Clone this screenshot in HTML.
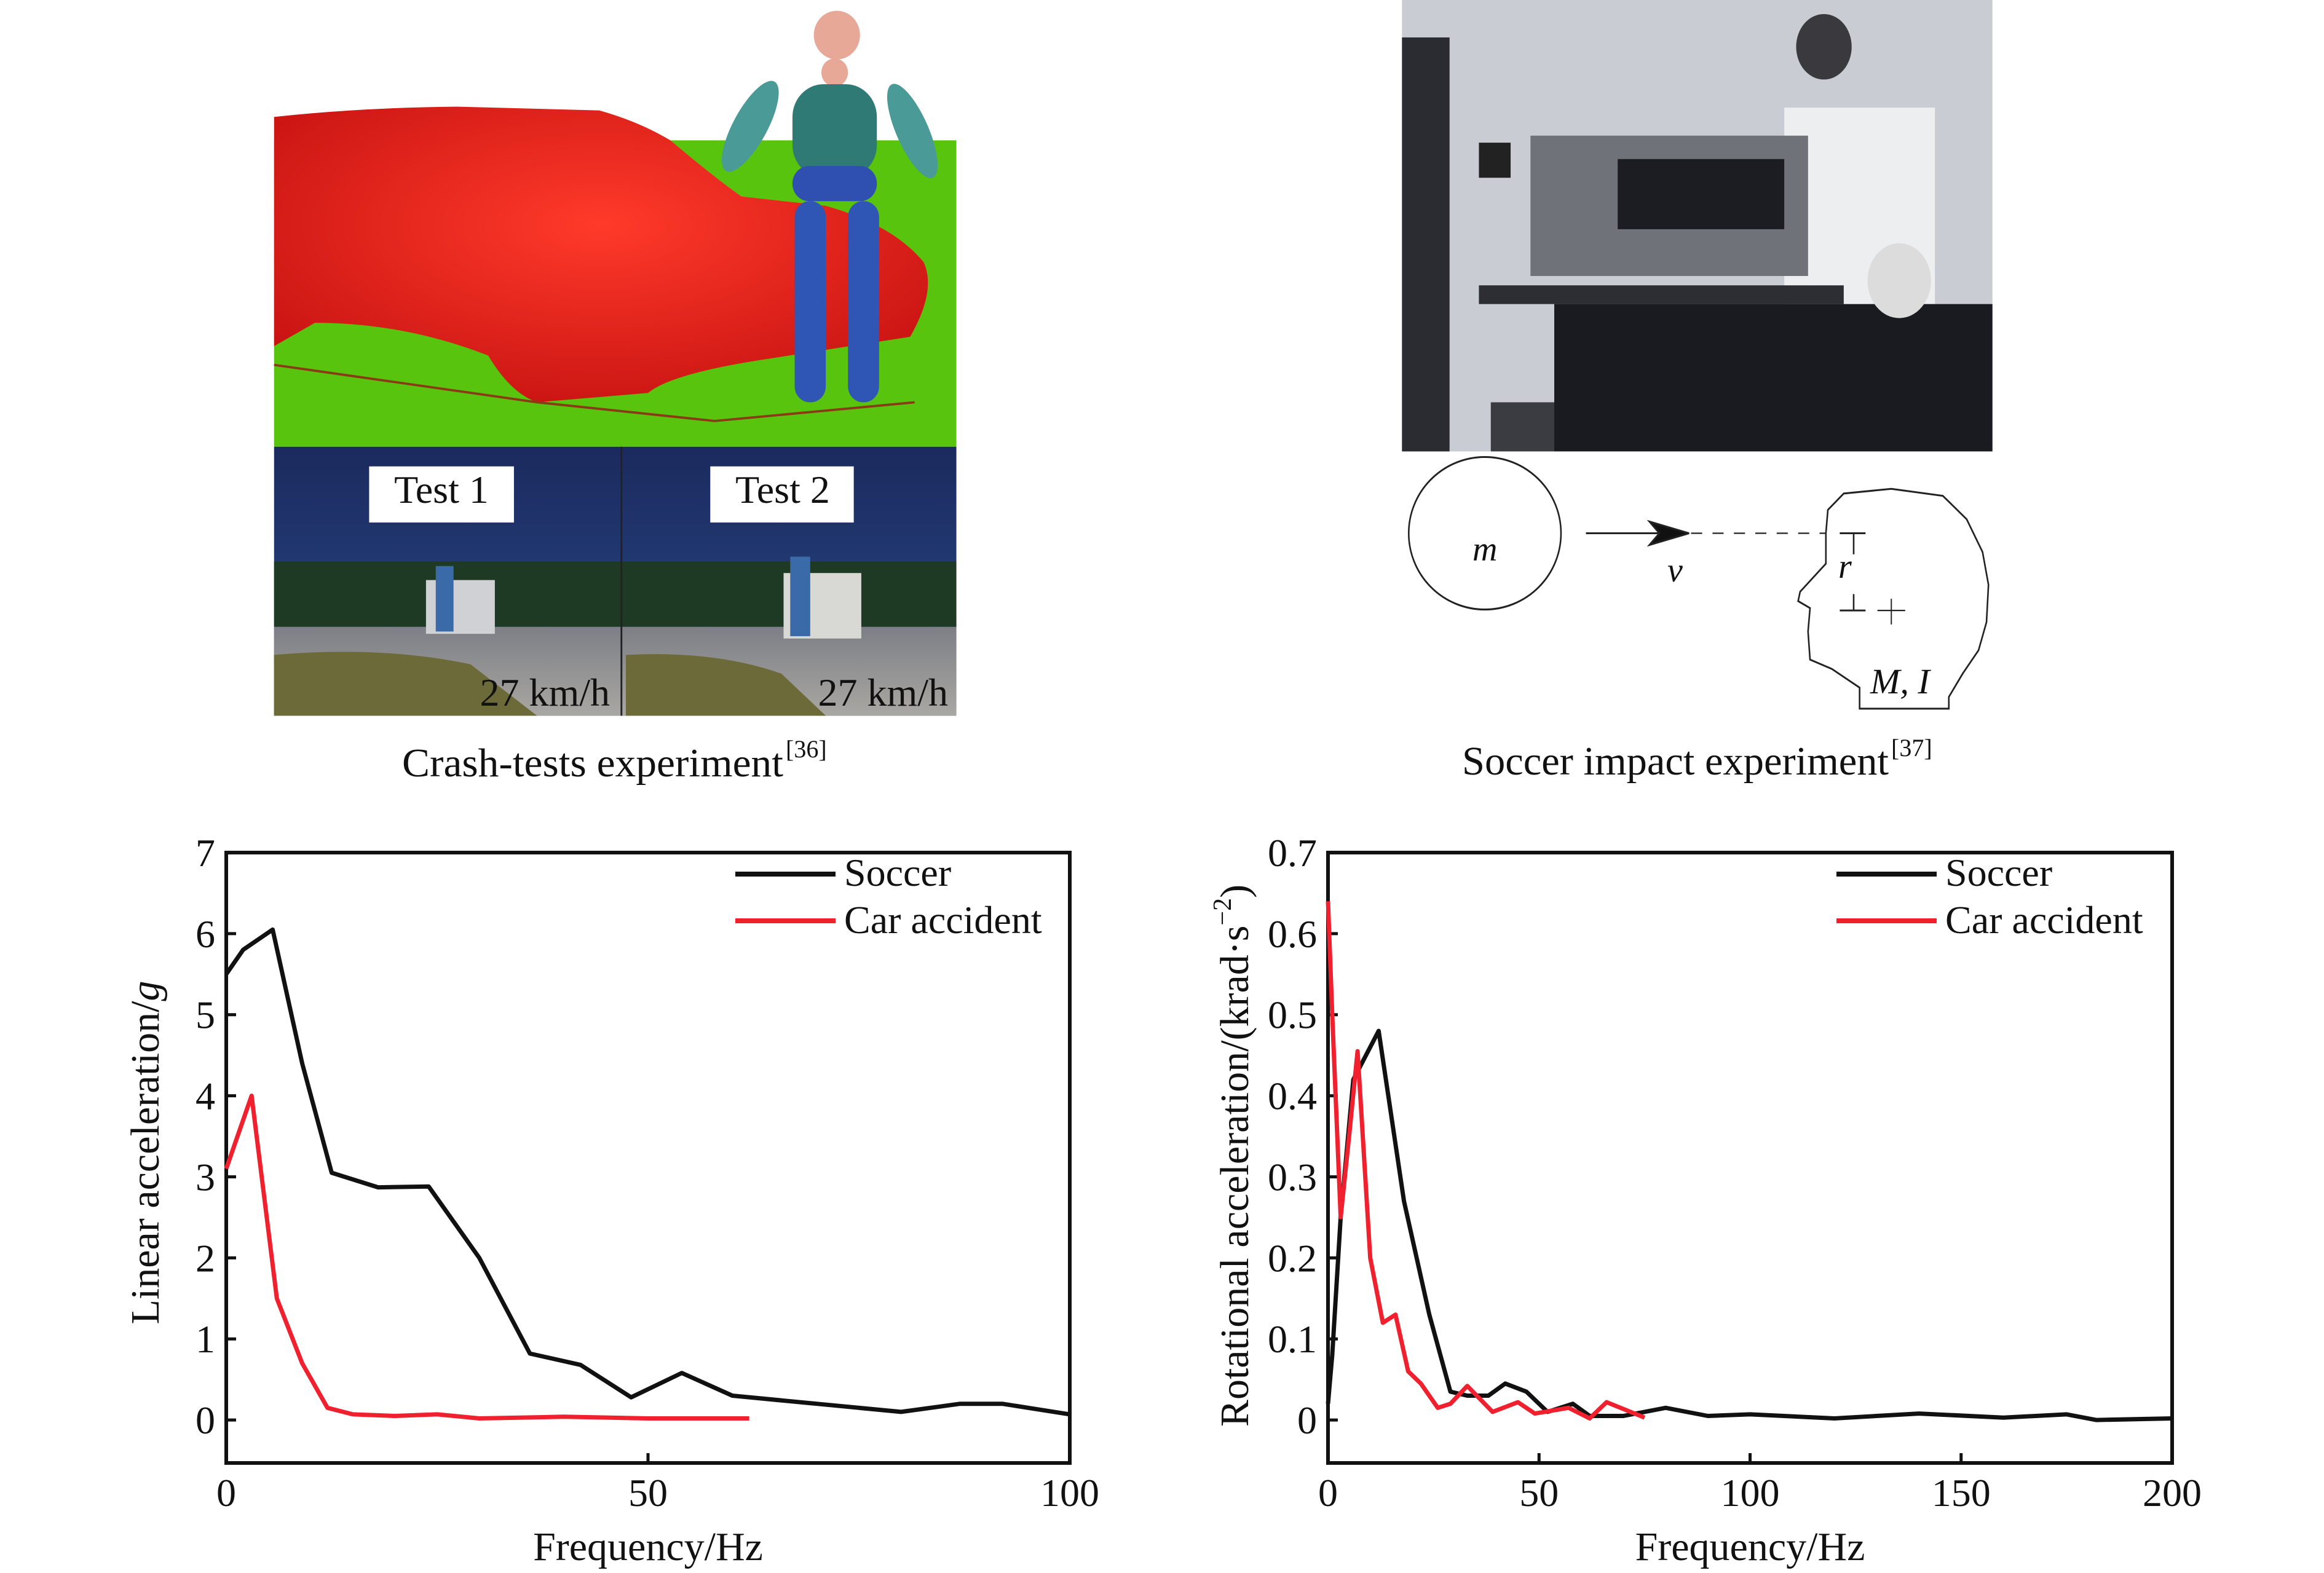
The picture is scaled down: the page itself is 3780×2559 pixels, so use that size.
<!DOCTYPE html>
<html><head><meta charset="utf-8"><style>
html,body{margin:0;padding:0;background:#fff}
svg{display:block}
text{font-family:"Liberation Serif",serif;fill:#111}
</style></head><body>
<svg id="fig" width="3780" height="2559" viewBox="0 0 3780 2559" xmlns="http://www.w3.org/2000/svg">
<defs>
<linearGradient id="sky" x1="0" y1="0" x2="0" y2="1"><stop offset="0" stop-color="#1b2a5e"/><stop offset="1" stop-color="#2a4a8a"/></linearGradient>
<linearGradient id="road" x1="0" y1="0" x2="0" y2="1"><stop offset="0" stop-color="#7d7f86"/><stop offset="1" stop-color="#a9a7a2"/></linearGradient>
<radialGradient id="carg" cx="0.5" cy="0.4" r="0.7"><stop offset="0" stop-color="#ff3a2a"/><stop offset="1" stop-color="#c41010"/></radialGradient>
</defs>

<!-- Crash test render -->
<g transform="translate(440,0) scale(0.7225,0.761)">
<rect x="8" y="0" width="1536" height="300" fill="#fff"/>
<rect x="8" y="300" width="1536" height="655" fill="#58c40e"/>
<path d="M8 250 Q200 230 420 228 L740 236 Q830 260 900 300 Q1000 380 1060 420 L1250 440 Q1400 480 1470 560 Q1500 620 1440 720 L1100 770 Q900 800 850 840 L600 860 Q540 840 490 760 Q300 690 100 690 L8 740 Z" fill="url(#carg)"/>
<path d="M8 780 L600 860 L1000 900 L1450 860" stroke="#8a3a14" stroke-width="5" fill="none"/>
<circle cx="1275" cy="75" r="52" fill="#e8a898"/>
<circle cx="1270" cy="155" r="30" fill="#e8a898"/>
<rect x="1175" y="180" width="190" height="200" rx="70" fill="#2f7a74"/>
<ellipse cx="1080" cy="270" rx="38" ry="110" fill="#4a9a98" transform="rotate(30 1080 270)"/>
<ellipse cx="1445" cy="280" rx="36" ry="110" fill="#4a9a98" transform="rotate(-25 1445 280)"/>
<rect x="1175" y="355" width="190" height="75" rx="37" fill="#2f50b0"/>
<rect x="1180" y="430" width="70" height="430" rx="34" fill="#2f55b5"/>
<rect x="1300" y="430" width="70" height="430" rx="34" fill="#2f55b5"/>
<rect x="8" y="955" width="1536" height="575" fill="url(#sky)"/>
<rect x="8" y="1200" width="1536" height="140" fill="#1f3a24"/>
<rect x="8" y="1340" width="1536" height="190" fill="url(#road)"/>
<path d="M8 1400 Q250 1380 450 1420 L600 1530 L8 1530 Z" fill="#6d6a3a"/>
<path d="M800 1400 Q1000 1390 1150 1440 L1250 1530 L800 1530 Z" fill="#6d6a3a"/>
<rect x="350" y="1240" width="155" height="115" fill="#cfd1d4"/>
<rect x="1155" y="1225" width="175" height="140" fill="#d8d8d4"/>
<rect x="372" y="1210" width="40" height="140" fill="#3a6aa8"/>
<rect x="1170" y="1190" width="45" height="170" fill="#3a6aa8"/>
<line x1="790" y1="955" x2="790" y2="1530" stroke="#222" stroke-width="4"/>
<rect x="222" y="997" width="326" height="120" fill="#fff"/>
<rect x="990" y="997" width="323" height="120" fill="#fff"/>
</g>
<text x="718" y="818" text-anchor="middle" font-size="64">Test 1</text>
<text x="1273" y="818" text-anchor="middle" font-size="64">Test 2</text>
<text x="992" y="1148" text-anchor="end" font-size="64">27 km/h</text>
<text x="1542" y="1148" text-anchor="end" font-size="64">27 km/h</text>
<text x="654" y="1263" font-size="66" textLength="620" lengthAdjust="spacingAndGlyphs">Crash-tests experiment</text>
<text x="1278" y="1232" font-size="40">[36]</text>

<!-- Soccer photo -->
<g transform="translate(2270,0) scale(0.645,0.761)">
<rect x="16" y="0" width="1489" height="965" fill="#c9ccd2"/>
<rect x="16" y="80" width="120" height="885" fill="#2a2c32"/>
<rect x="210" y="305" width="80" height="75" fill="#222"/>
<rect x="980" y="230" width="380" height="500" fill="#eceeef"/>
<circle cx="1080" cy="100" r="70" fill="#3a3a3e"/>
<rect x="340" y="290" width="700" height="300" fill="#6f7278"/>
<rect x="560" y="340" width="420" height="150" fill="#1c1d22"/>
<rect x="210" y="610" width="920" height="40" fill="#2c2e33"/>
<rect x="400" y="650" width="1105" height="315" fill="#1a1b20"/>
<rect x="240" y="860" width="160" height="105" fill="#3a3c42"/>
<circle cx="1270" cy="600" r="80" fill="#dcdcdc"/>
</g>
<g transform="translate(2270,0) scale(0.645,0.761)" fill="none" stroke="#222" stroke-width="4">
<ellipse cx="225" cy="1140" rx="192" ry="163"/>
<line x1="480" y1="1140" x2="700" y2="1140"/>
<path d="M640 1115 L740 1140 L640 1165 L665 1140 Z" fill="#111"/>
<line x1="745" y1="1140" x2="1085" y2="1140" stroke-dasharray="28 26" stroke-width="3"/>
<path d="M1085 1140 L1090 1090 L1130 1055 L1250 1045 L1380 1060 L1440 1110 L1480 1180 L1495 1250 L1490 1330 L1470 1390 L1430 1440 L1395 1490 L1395 1515 L1170 1515 L1170 1470 L1100 1430 L1045 1410 L1040 1350 L1045 1300 L1015 1285 L1020 1265 L1085 1205 Z"/>
<line x1="1120" y1="1140" x2="1185" y2="1140"/><line x1="1155" y1="1140" x2="1155" y2="1185"/>
<line x1="1120" y1="1305" x2="1185" y2="1305"/><line x1="1155" y1="1270" x2="1155" y2="1305"/>
<line x1="1215" y1="1305" x2="1285" y2="1305" stroke-width="3"/><line x1="1250" y1="1280" x2="1250" y2="1335" stroke-width="3"/>
</g>
<text x="2395" y="912" font-size="56" font-style="italic">m</text>
<text x="2712" y="946" font-size="56" font-style="italic">v</text>
<text x="2990" y="940" font-size="56" font-style="italic">r</text>
<text x="3042" y="1128" font-size="58" font-style="italic">M, I</text>
<text x="2378" y="1260" font-size="66" textLength="694" lengthAdjust="spacingAndGlyphs">Soccer impact experiment</text>
<text x="3076" y="1230" font-size="40">[37]</text>

<g id="chart1"></g>
<g id="chart2"></g>
</svg>
<script>
// Left chart data
const linXTicks = [0, 50, 100];
const linYTicks = [0, 1, 2, 3, 4, 5, 6, 7];
const linSoccerX = [0, 2, 5.5, 9, 12.5, 18, 24, 30, 36, 42, 48, 54, 60, 70, 80, 87, 92, 100];
const linSoccerY = [5.5, 5.8, 6.05, 4.4, 3.05, 2.87, 2.88, 2.0, 0.82, 0.68, 0.28, 0.58, 0.3, 0.2, 0.1, 0.2, 0.2, 0.07];
const linCarX = [0, 3, 6, 9, 12, 15, 20, 25, 30, 40, 50, 62];
const linCarY = [3.1, 4.0, 1.5, 0.7, 0.15, 0.07, 0.05, 0.07, 0.02, 0.04, 0.02, 0.02];
// Right chart data
const rotXTicks = [0, 50, 100, 150, 200];
const rotYTicks = [0, 0.1, 0.2, 0.3, 0.4, 0.5, 0.6, 0.7];
const rotSoccerX = [0, 1, 3, 6, 12, 18, 24, 29, 33, 38, 42, 47, 52, 58, 62, 70, 80, 90, 100, 120, 140, 160, 175, 182, 200];
const rotSoccerY = [0.02, 0.08, 0.25, 0.42, 0.48, 0.27, 0.13, 0.035, 0.03, 0.03, 0.045, 0.035, 0.01, 0.02, 0.005, 0.005, 0.015, 0.005, 0.007, 0.002, 0.008, 0.003, 0.007, 0.0, 0.002];
const rotCarX = [0, 1, 3, 5, 7, 10, 13, 16, 19, 22, 26, 29, 33, 39, 45, 49, 57, 62, 66, 75];
const rotCarY = [0.64, 0.5, 0.25, 0.35, 0.455, 0.2, 0.12, 0.13, 0.06, 0.045, 0.015, 0.02, 0.042, 0.01, 0.022, 0.008, 0.015, 0.002, 0.022, 0.003];

const NS = 'http://www.w3.org/2000/svg';
function mk(tag, attrs, parent) {
  const e = document.createElementNS(NS, tag);
  for (const k in attrs) e.setAttribute(k, attrs[k]);
  parent.appendChild(e);
  return e;
}
function drawChart(g, cfg) {
  const L = cfg.left, R = cfg.right, T = 1387, B = 2380;
  const sx = v => L + (v - cfg.xmin) / (cfg.xmax - cfg.xmin) * (R - L);
  const sy = v => T + (cfg.ymax - v) / (cfg.ymax - cfg.ymin) * (B - T);
  const box = mk('rect', {x: L, y: T, width: R - L, height: B - T, fill: 'none', stroke: '#111', 'stroke-width': 6}, g);
  
  
  cfg.xt.forEach(v => {
    const t = mk('line', {x1: sx(v), x2: sx(v), y1: B, y2: B - 16, stroke: '#111', 'stroke-width': 5}, g);
    
    
    const lb = mk('text', {x: sx(v), y: 2450, 'text-anchor': 'middle', 'font-size': 64}, g);
    lb.textContent = v;
    
    
  });
  cfg.yt.forEach(v => {
    const t = mk('line', {x1: L, x2: L + 16, y1: sy(v), y2: sy(v), stroke: '#111', 'stroke-width': 5}, g);
    
    
    const lb = mk('text', {x: L - 18, y: sy(v) + 22, 'text-anchor': 'end', 'font-size': 64}, g);
    lb.textContent = cfg.fmt(v);
    
    
  });
  const xt = mk('text', {x: (L + R) / 2, y: 2538, 'text-anchor': 'middle', 'font-size': 66}, g);
  xt.textContent = 'Frequency/Hz';
  
  
  const yt = mk('text', {x: 0, y: 0, 'text-anchor': 'middle', 'font-size': 66, transform: 'translate(' + cfg.ytx + ',' + cfg.yty + ') rotate(-90)'}, g);
  yt.innerHTML = cfg.ytitle;
  
  
  const series = [[cfg.sx, cfg.sy, '#111', 'soccer-line'], [cfg.cx, cfg.cy, '#f0202e', 'car-accident-line']];
  series.forEach(s => {
    const d = s[0].map((x, i) => (i ? 'L' : 'M') + sx(x).toFixed(1) + ' ' + sy(s[1][i]).toFixed(1)).join(' ');
    const p = mk('path', {d: d, fill: 'none', stroke: s[2], 'stroke-width': 7, 'stroke-linejoin': 'round'}, g);
    
    
  });
  const lx1 = cfg.legX, lx2 = cfg.legX + 163;
  [['Soccer', '#111', 1422, 1441], ['Car accident', '#f0202e', 1498, 1518]].forEach(e => {
    const ln = mk('line', {x1: lx1, x2: lx2, y1: e[2], y2: e[2], stroke: e[1], 'stroke-width': 8}, g);
    
    
    const t = mk('text', {x: lx2 + 14, y: e[3], 'font-size': 64}, g);
    t.textContent = e[0];
    
    
  });
}
drawChart(document.getElementById('chart1'), {
  left: 368, right: 1740, xmin: 0, xmax: 100, ymin: -0.53, ymax: 7,
  xt: linXTicks, yt: linYTicks, fmt: v => String(v),
  sx: linSoccerX, sy: linSoccerY, cx: linCarX, cy: linCarY,
  ytx: 258, yty: 1875, ytitle: 'Linear acceleration/<tspan font-style="italic">g</tspan>', legX: 1196
});
drawChart(document.getElementById('chart2'), {
  left: 2160, right: 3533, xmin: 0, xmax: 200, ymin: -0.053, ymax: 0.7,
  xt: rotXTicks, yt: rotYTicks, fmt: v => v === 0 ? '0' : v.toFixed(1),
  sx: rotSoccerX, sy: rotSoccerY, cx: rotCarX, cy: rotCarY,
  ytx: 2030, yty: 1880, ytitle: 'Rotational acceleration/(krad·s<tspan dy="-28" font-size="42">−2</tspan><tspan dy="28">)</tspan>', legX: 2987
});
</script>
</body></html>
